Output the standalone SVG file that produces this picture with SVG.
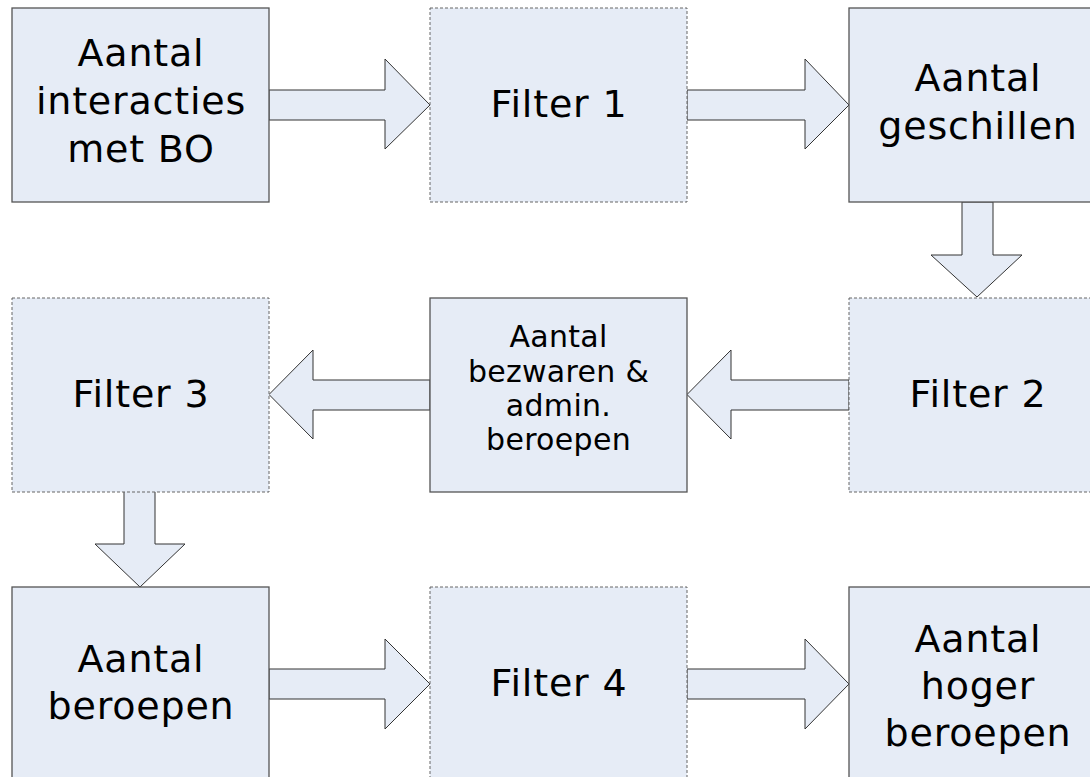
<svg xmlns="http://www.w3.org/2000/svg" width="1090" height="777" viewBox="0 0 1090 777">
<style>
.box{fill:#E6ECF6;stroke:#555;stroke-width:1.3}
.dbox{fill:#E6ECF6;stroke:#666;stroke-width:1;stroke-dasharray:3 2}
.arr{fill:#E6ECF6;stroke:#333;stroke-width:1;stroke-linejoin:miter}
.t{font-family:"DejaVu Sans",Verdana,sans-serif;font-size:38px;letter-spacing:0.8px;fill:#000;text-anchor:middle}
.s{font-family:"DejaVu Sans",Verdana,sans-serif;font-size:30px;letter-spacing:0.3px;fill:#000;text-anchor:middle}
</style>
<rect width="1090" height="777" fill="#fff"/>
<g id="connectors">
<polygon class="arr" points="269,90 385,90 385,59 430,105 385,149 385,120 269,120"/>
<polygon class="arr" points="687,90 805,90 805,59 849,105 805,149 805,120 687,120"/>
<polygon class="arr" points="962,202 993,202 993,255 1022,255 977,297 931,255 962,255"/>
<polygon class="arr" points="849,380 731,380 731,350 687,394.5 731,439 731,410 849,410"/>
<polygon class="arr" points="430,380 313,380 313,350 269,394.5 313,439 313,410 430,410"/>
<polygon class="arr" points="124,491 155,491 155,544 185,544 140,587 95,544 124,544"/>
<polygon class="arr" points="269,669 385,669 385,639 430,684 385,729 385,699 269,699"/>
<polygon class="arr" points="687,669 805,669 805,639 849,684 805,729 805,699 687,699"/>
</g>
<g id="n1">
<rect class="box" x="12" y="8" width="257" height="194"/>
<text class="t" x="141" y="66">Aantal</text>
<text class="t" x="141" y="114">interacties</text>
<text class="t" x="141" y="162">met BO</text>
</g>
<g id="f1">
<rect class="dbox" x="430" y="8" width="257" height="194"/>
<text class="t" x="559" y="117">Filter 1</text>
</g>
<g id="n2">
<rect class="box" x="849" y="8" width="257" height="194"/>
<text class="t" x="978" y="91">Aantal</text>
<text class="t" x="978" y="139">geschillen</text>
</g>
<g id="f2">
<rect class="dbox" x="849" y="298" width="257" height="194"/>
<text class="t" x="978" y="407">Filter 2</text>
</g>
<g id="n3">
<rect class="box" x="430" y="298" width="257" height="194"/>
<text class="s" x="558.5" y="347">Aantal</text>
<text class="s" x="558.5" y="382">bezwaren &amp;</text>
<text class="s" x="558.5" y="416">admin.</text>
<text class="s" x="558.5" y="450">beroepen</text>
</g>
<g id="f3">
<rect class="dbox" x="12" y="298" width="257" height="194"/>
<text class="t" x="141" y="407">Filter 3</text>
</g>
<g id="n4">
<rect class="box" x="12" y="587" width="257" height="194"/>
<text class="t" x="141" y="672">Aantal</text>
<text class="t" x="141" y="719">beroepen</text>
</g>
<g id="f4">
<rect class="dbox" x="430" y="587" width="257" height="194"/>
<text class="t" x="559" y="696">Filter 4</text>
</g>
<g id="n5">
<rect class="box" x="849" y="587" width="257" height="194"/>
<text class="t" x="978" y="652">Aantal</text>
<text class="t" x="978" y="699">hoger</text>
<text class="t" x="978" y="746">beroepen</text>
</g>
</svg>
